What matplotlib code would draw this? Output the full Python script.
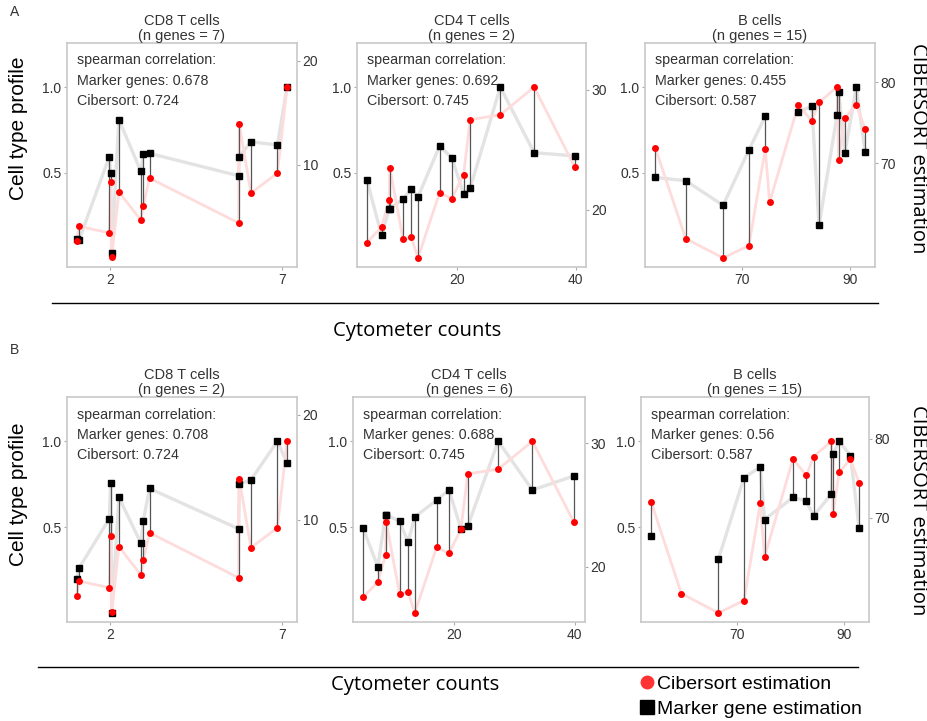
import numpy as np
import matplotlib
matplotlib.use("Agg")
import matplotlib.pyplot as plt
from matplotlib.lines import Line2D

plt.rcParams["font.family"] = ["Liberation Sans", "DejaVu Sans"]

# ── data (marker profile and Cibersort both shown on the normalised 0-1 scale) ──
cd8_counts = [1.03, 1.10, 1.98, 2.02, 2.05, 2.26, 2.90, 2.97, 3.15, 5.74, 5.76, 6.10, 6.87, 7.15]
cd8_cibersort = [0.10, 0.185, 0.147, 0.447, 0.006, 0.386, 0.221, 0.306, 0.467, 0.205, 0.783, 0.380, 0.496, 1.0]
cd8_marker_a = [0.109, 0.105, 0.593, 0.496, 0.031, 0.810, 0.506, 0.609, 0.612, 0.481, 0.593, 0.680, 0.661, 1.0]
cd8_marker_b = [0.196, 0.261, 0.549, 0.759, 0.0, 0.673, 0.406, 0.537, 0.725, 0.490, 0.751, 0.775, 1.0, 0.873]

cd4_counts = [4.94, 7.41, 8.69, 8.80, 11.02, 12.41, 13.53, 17.14, 19.19, 21.17, 22.28, 27.33, 33.0, 39.84]
cd4_cibersort = [0.09, 0.18, 0.337, 0.528, 0.11, 0.12, 0.0, 0.382, 0.347, 0.488, 0.809, 0.838, 1.0, 0.53]
cd4_marker_a = [0.457, 0.134, 0.289, 0.289, 0.345, 0.403, 0.357, 0.655, 0.587, 0.376, 0.409, 1.0, 0.616, 0.597]
cd4_marker_b = [0.496, 0.269, 0.573, 0.573, 0.533, 0.414, 0.559, 0.657, 0.716, 0.490, 0.504, 1.0, 0.716, 0.798]

b_counts = [54.1, 59.7, 66.6, 71.35, 74.37, 75.17, 80.46, 82.95, 84.28, 87.6, 87.9, 89.05, 91.15, 92.77]
b_cibersort = [0.645, 0.113, 0.0, 0.072, 0.638, 0.325, 0.897, 0.801, 0.91, 1.0, 0.574, 0.82, 0.895, 0.757]
b_marker_a = [0.471, 0.452, 0.308, 0.632, 0.829, np.nan, 0.853, 0.888, 0.190, 0.835, 0.971, 0.616, 1.0, 0.622]
b_marker_b = [0.451, np.nan, 0.314, 0.788, 0.849, 0.543, 0.673, 0.653, 0.565, 0.692, 0.927, 1.0, 0.916, 0.494]

# Cibersort estimation range (value at 0 and at 1 on the profile scale)
cib_range_a = [(1.07, 17.46), (15.97, 30.22), (58.33, 79.39)]
cib_range_b = [(1.15, 17.46), (16.28, 30.14), (58.0, 79.70)]

titles = ["CD8 T cells", "CD4 T cells", "B cells"]
n_genes_a = [7, 2, 15]
n_genes_b = [2, 6, 15]
corr_marker_a = ["0.678", "0.692", "0.455"]
corr_marker_b = ["0.708", "0.688", "0.56"]
corr_cibersort = ["0.724", "0.745", "0.587"]

xticks = [[2, 7], [20, 40], [70, 90]]
right_ticks = [[10, 20], [20, 30], [70, 80]]
xlims = [(0.75, 7.44), (3.3, 41.7), (52.2, 94.6)]

TXT = "#333333"
EDGE = "#c8c8c8"


def draw_panel(ax, counts, marker, cib, rng, title, n, cm, cc, xt, rt, xl):
    counts = np.asarray(counts)
    marker = np.asarray(marker, dtype=float)
    cib = np.asarray(cib)

    ax.plot(counts, marker, color="#e3e3e3", lw=2.4, zorder=1, solid_capstyle="round")
    ax.plot(counts, cib, color="#ffdcdc", lw=2.0, zorder=1, solid_capstyle="round")
    ok = ~np.isnan(marker)
    ax.vlines(counts[ok], marker[ok], cib[ok], color="#555555", lw=0.9, zorder=2)
    ax.plot(counts, marker, "s", color="black", ms=4.6, zorder=3, ls="none")
    ax.plot(counts, cib, "o", color="#ff0000", ms=5, zorder=4, ls="none", mec="none")

    ax.set_xlim(*xl)
    ax.set_ylim(-0.053, 1.258)
    ax.set_xticks(xt)
    ax.set_yticks([0.5, 1.0])
    ax.set_yticklabels(["0.5", "1.0"])
    for s in ax.spines.values():
        s.set_color(EDGE)
        s.set_linewidth(1.2)
    ax.tick_params(length=2.5, width=0.8, color="#aaaaaa", labelcolor=TXT,
                   labelsize=10, pad=1.5)
    ax.set_title(f"{title}\n(n genes = {n})", fontsize=10.5, color=TXT,
                 pad=2, linespacing=1.05)

    lo, hi = rng
    sec = ax.secondary_yaxis("right",
                             functions=(lambda v: lo + v * (hi - lo),
                                        lambda r: (r - lo) / (hi - lo)))
    sec.set_yticks(rt)
    for s in sec.spines.values():
        s.set_visible(False)
    sec.tick_params(length=2.5, width=0.8, color="#aaaaaa", labelcolor=TXT,
                    labelsize=10, pad=1.5)

    for i, line in enumerate(["spearman correlation:",
                              f"Marker genes: {cm}",
                              f"Cibersort: {cc}"]):
        ax.text(0.045, 0.922 - i * 0.09, line, transform=ax.transAxes,
                fontsize=10.3, color=TXT, va="center", ha="left", zorder=5)


fig = plt.figure(figsize=(9.27, 7.21), dpi=100)
W, H = 927, 721

def box(l, t, r, b):
    return [l / W, 1 - b / H, (r - l) / W, (b - t) / H]

row_a = [box(67, 43, 297, 267), box(357, 43, 586, 267), box(645, 43, 875, 267)]
row_b = [box(67, 397, 297, 622), box(353, 397, 585, 622), box(641, 397, 869, 622)]

counts = [cd8_counts, cd4_counts, b_counts]
cibs = [cd8_cibersort, cd4_cibersort, b_cibersort]
markers_a = [cd8_marker_a, cd4_marker_a, b_marker_a]
markers_b = [cd8_marker_b, cd4_marker_b, b_marker_b]

for i in range(3):
    ax = fig.add_axes(row_a[i])
    draw_panel(ax, counts[i], markers_a[i], cibs[i], cib_range_a[i], titles[i],
               n_genes_a[i], corr_marker_a[i], corr_cibersort[i],
               xticks[i], right_ticks[i], xlims[i])
    ax = fig.add_axes(row_b[i])
    draw_panel(ax, counts[i], markers_b[i], cibs[i], cib_range_b[i], titles[i],
               n_genes_b[i], corr_marker_b[i], corr_cibersort[i],
               xticks[i], right_ticks[i], xlims[i])

# ── shared labels ──
lab_font = ["Open Sans", "DejaVu Sans"]
for yc in (128, 494):
    fig.text(19 / W, 1 - yc / H, "Cell type profile", rotation=90, fontsize=15,
             ha="center", va="center", color="black")
for yc in (148, 510):
    fig.text(918 / W, 1 - yc / H, "CIBERSORT estimation", rotation=270, fontsize=14.5,
             family=lab_font, ha="center", va="center", color="black")
fig.text(417 / W, 1 - 331 / H, "Cytometer counts", fontsize=14.6, family=lab_font,
         ha="center", va="center")
fig.text(415 / W, 1 - 685 / H, "Cytometer counts", fontsize=14.6, family=lab_font,
         ha="center", va="center")
fig.text(10 / W, 1 - 12 / H, "A", fontsize=10, ha="left", va="center", color=TXT)
fig.text(10 / W, 1 - 350 / H, "B", fontsize=10, ha="left", va="center", color=TXT)

fig.add_artist(Line2D([52 / W, 878 / W], [1 - 303 / H, 1 - 303 / H], color="black", lw=1))
fig.add_artist(Line2D([38 / W, 858 / W], [1 - 667 / H, 1 - 667 / H], color="black", lw=1))

handles = [Line2D([], [], marker="o", color="#ff3333", ls="none", ms=10, mec="none"),
           Line2D([], [], marker="s", color="black", ls="none", ms=10)]
fig.legend(handles, ["Cibersort estimation", "Marker gene estimation"],
           loc="upper left", bbox_to_anchor=(640 / W, 1 - 675 / H), frameon=False,
           fontsize=14, handlelength=0.7, handletextpad=0.15, labelspacing=0.4,
           borderaxespad=0, borderpad=0)

fig.savefig("out.png", dpi=100)
